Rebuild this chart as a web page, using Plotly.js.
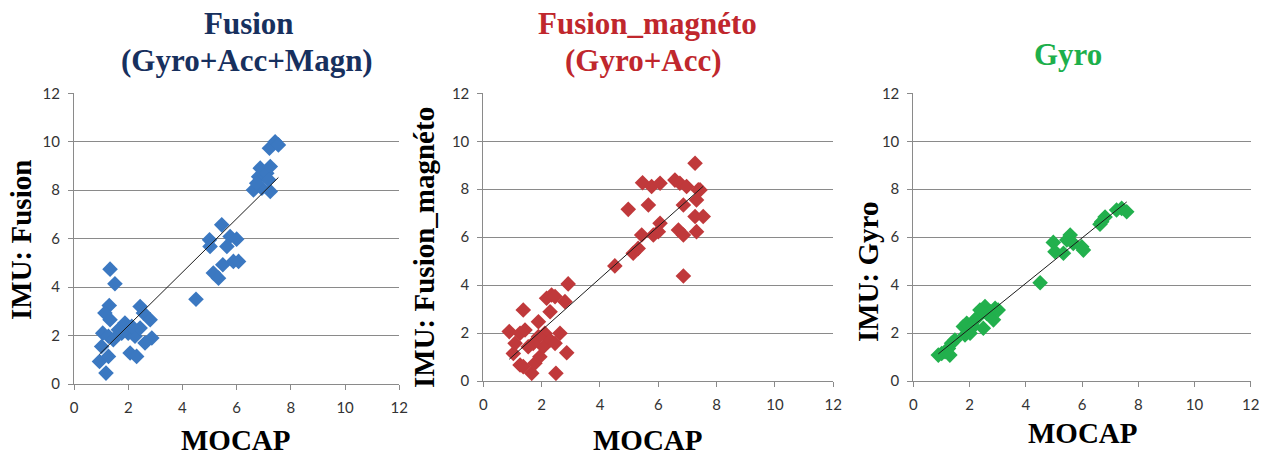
<!DOCTYPE html>
<html>
<head>
<meta charset="utf-8">
<script src="https://cdn.plot.ly/plotly-3.0.1.min.js"></script>
<style>
html,body{margin:0;padding:0;background:#fff;}
#chart{width:1274px;height:457px;}
</style>
</head>
<body>
<div id="chart"></div>
<script>
// ---- Data ----
const panelTitles = [["Fusion", "(Gyro+Acc+Magn)"], ["Fusion_magnéto", "(Gyro+Acc)"], ["Gyro"]];
const yTitles = ["IMU: Fusion", "IMU: Fusion_magnéto", "IMU: Gyro"];
const xTitle = "MOCAP";
const tickValues = [0, 2, 4, 6, 8, 10, 12];

const fusionMocap = [0.94,1.18,1.33,1.51,1.30,1.14,1.33,1.06,1.27,1.02,1.27,1.64,1.88,2.00,2.07,2.31,2.25,2.44,2.56,2.81,2.87,2.62,2.44,2.13,1.76,1.45,
  4.50,5.00,5.02,5.45,5.76,6.00,5.64,5.49,5.88,6.07,5.14,5.33,
  6.62,6.81,6.87,7.11,7.24,6.93,7.24,7.18,7.21,7.42,7.54,6.74];
const fusionImu = [0.93,0.45,4.74,4.14,3.24,2.93,2.65,2.10,1.97,1.55,1.14,2.24,2.52,2.10,1.28,1.14,1.97,3.20,2.93,2.65,1.90,1.69,2.31,2.38,2.10,1.83,
  3.50,5.95,5.68,6.57,6.09,5.98,5.68,4.92,5.06,5.06,4.58,4.37,
  8.01,8.56,8.91,8.70,8.98,8.08,7.95,8.43,9.73,10.00,9.87,8.29];

const magnetoMocap = [0.89,1.03,1.09,1.26,1.37,1.43,1.26,1.37,1.54,1.66,1.77,1.89,1.94,2.06,2.11,2.17,2.29,2.34,2.46,2.29,2.46,2.63,2.49,2.80,2.91,2.86,1.89,1.71,
  4.51,4.97,5.14,5.31,5.43,5.46,5.66,5.77,5.83,6.00,6.06,6.06,
  6.57,6.74,6.69,6.86,6.86,6.86,6.97,7.26,7.31,7.31,7.37,7.26,7.54,7.43];
const magnetoImu = [2.06,1.15,1.57,1.99,2.96,2.13,0.67,0.60,1.43,0.32,0.74,2.47,1.01,1.43,1.99,3.45,2.89,3.59,3.52,1.71,1.57,1.99,0.32,3.31,4.05,1.18,1.85,1.57,
  4.80,7.16,5.33,5.53,6.09,8.27,7.34,8.11,6.09,6.23,8.25,6.58,
  8.38,8.25,6.30,6.09,7.34,4.38,8.11,9.08,7.55,6.23,7.97,6.86,6.86,7.97];

const gyroMocap = [0.89,1.01,1.13,1.25,1.36,1.30,1.48,1.78,1.84,1.90,2.02,2.19,2.31,2.49,2.55,2.61,2.73,2.85,2.91,3.02,2.37,2.13,
  4.51,4.98,5.04,5.34,5.46,5.58,5.69,5.99,6.05,
  6.64,6.82,6.70,7.23,7.41,7.59];
const gyroImu = [1.08,1.15,1.22,1.36,1.57,1.08,1.71,2.27,1.92,2.41,1.99,2.55,2.68,2.20,3.11,2.82,2.89,2.55,3.03,2.96,2.96,2.27,
  4.10,5.78,5.39,5.33,5.88,6.09,5.74,5.60,5.46,
  6.54,6.84,6.64,7.13,7.20,7.06];

const seriesColors = ["#3B78C1", "#C0393B", "#22B04D"];
const titleColors = ["#17305E", "#C0272D", "#1DAF4B"];

// ---- Helpers ----
function linreg(xs, ys) {
  const n = xs.length;
  let sx = 0, sy = 0, sxx = 0, sxy = 0;
  for (let i = 0; i < n; i++) { sx += xs[i]; sy += ys[i]; sxx += xs[i]*xs[i]; sxy += xs[i]*ys[i]; }
  const m = (n*sxy - sx*sy) / (n*sxx - sx*sx);
  const b = (sy - m*sx) / n;
  const x0 = Math.min(...xs), x1 = Math.max(...xs);
  return {x: [x0, x1], y: [m*x0 + b, m*x1 + b]};
}

const W = 1274, H = 457;
const px = v => v / W;
const py = v => 1 - v / H;

const sets = [[fusionMocap, fusionImu], [magnetoMocap, magnetoImu], [gyroMocap, gyroImu]];
const data = [];
sets.forEach((s, i) => {
  const ax = i === 0 ? '' : String(i + 1);
  data.push({
    type: 'scatter', mode: 'markers', x: s[0], y: s[1],
    xaxis: 'x' + ax, yaxis: 'y' + ax,
    marker: {symbol: 'diamond', size: 12, color: seriesColors[i], line: {width: 0}},
    showlegend: false, hoverinfo: 'x+y'
  });
  const t = linreg(s[0], s[1]);
  data.push({
    type: 'scatter', mode: 'lines', x: t.x, y: t.y,
    xaxis: 'x' + ax, yaxis: 'y' + ax,
    line: {color: '#1a1a1a', width: 1},
    showlegend: false, hoverinfo: 'skip'
  });
});

const xDomains = [[74/W, 399.3/W], [483.3/W, 833.3/W], [913.3/W, 1250.7/W]];
const yDomains = [[1 - 384/H, 1 - 93.3/H], [1 - 381/H, 1 - 93.3/H], [1 - 381/H, 1 - 93.3/H]];

const tickFont = {family: 'Lato, "Open Sans", sans-serif', size: 15, color: '#333333'};
const axisCommon = {
  range: [0, 12], tickvals: tickValues, ticktext: tickValues.map(String),
  showline: true, linecolor: '#8a8a8a', linewidth: 1,
  ticks: 'outside', ticklen: 5, tickcolor: '#8a8a8a', tickwidth: 1,
  zeroline: false, tickfont: tickFont, fixedrange: true
};

const layout = {
  width: W, height: H,
  margin: {l: 0, r: 0, t: 0, b: 0},
  paper_bgcolor: '#ffffff', plot_bgcolor: '#ffffff',
  showlegend: false,
  annotations: []
};
for (let i = 0; i < 3; i++) {
  const ax = i === 0 ? '' : String(i + 1);
  layout['xaxis' + ax] = Object.assign({}, axisCommon, {
    domain: xDomains[i], anchor: 'y' + ax, showgrid: false, ticklabelstandoff: 5
  });
  layout['yaxis' + ax] = Object.assign({}, axisCommon, {
    domain: yDomains[i], anchor: 'x' + ax, showgrid: true, gridcolor: '#8a8a8a', gridwidth: 1,
    ticklabelstandoff: 5
  });
}

const serif = '"Liberation Serif", "Times New Roman", serif';
// Panel titles (one annotation per line)
const titleLines = [
  [[249, 24], [247, 60]],
  [[647, 24], [643, 60]],
  [[1068, 54]]
];
panelTitles.forEach((lines, i) => {
  lines.forEach((txt, j) => {
    layout.annotations.push({
      xref: 'paper', yref: 'paper', x: px(titleLines[i][j][0]), y: py(titleLines[i][j][1]),
      xanchor: 'center', yanchor: 'middle', showarrow: false,
      text: '<b>' + txt + '</b>',
      font: {family: serif, size: 31, color: titleColors[i]}
    });
  });
});
// Y axis titles
const yTitlePos = [[21, 240], [424, 248], [868, 272]];
yTitles.forEach((txt, i) => {
  layout.annotations.push({
    xref: 'paper', yref: 'paper', x: px(yTitlePos[i][0]), y: py(yTitlePos[i][1]),
    xanchor: 'center', yanchor: 'middle', showarrow: false, textangle: -90,
    text: '<b>' + txt + '</b>',
    font: {family: serif, size: 29, color: '#000000'}
  });
});
// X axis titles
const xTitlePos = [[236, 440], [648, 440], [1083, 433]];
xTitlePos.forEach(p => {
  layout.annotations.push({
    xref: 'paper', yref: 'paper', x: px(p[0]), y: py(p[1]),
    xanchor: 'center', yanchor: 'middle', showarrow: false,
    text: '<b>' + xTitle + '</b>',
    font: {family: serif, size: 29, color: '#000000'}
  });
});

Plotly.newPlot('chart', data, layout, {displayModeBar: false, staticPlot: true});
</script>
</body>
</html>
